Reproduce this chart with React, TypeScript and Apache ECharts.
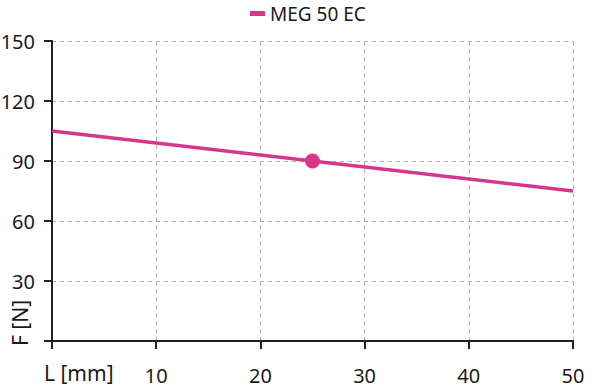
import React, { useEffect, useRef } from "react";
import * as echarts from "echarts";

const seriesName = "MEG 50 EC";
const lineData: [number, number][] = [
  [0, 105],
  [50, 75],
];
const markerData: [number, number][] = [[25, 90]];
const xTicks = { min: 0, max: 50, interval: 10 };
const yTicks = { min: 0, max: 150, interval: 30 };
const xAxisTitle = "L [mm]";
const yAxisTitle = "F [N]";

const COLOR = "#d6368c";
const FONT = "Noto Sans";
const TXT = "#1a1a1a";
const FS = 20;

export default function App() {
  const ref = useRef<HTMLDivElement>(null);
  useEffect(() => {
    document.body.style.margin = "0";
    if (!ref.current) return;
    const chart = echarts.init(ref.current, undefined, { renderer: "svg" });
    chart.setOption({
      animation: false,
      textStyle: { fontFamily: FONT },
      legend: {
        top: 0,
        left: 245,
        padding: [4, 5, 5, 5],
        data: [seriesName],
        icon: "rect",
        itemWidth: 15,
        itemHeight: 5,
        itemGap: 8,
        textStyle: { fontSize: 19, color: TXT, fontFamily: FONT, lineHeight: 16 },
      },
      grid: { left: 52, right: 27, top: 41, bottom: 49, outerBoundsMode: "none", containLabel: false },
      xAxis: {
        type: "value",
        min: xTicks.min,
        max: xTicks.max,
        interval: xTicks.interval,
        axisLine: { show: true, onZero: false, lineStyle: { color: "#222", width: 2 } },
        axisTick: { show: true, length: 8, lineStyle: { color: "#222", width: 2 } },
        axisLabel: {
          fontSize: FS,
          color: TXT,
          fontFamily: FONT,
          margin: 24,
          formatter: (v: number) => (v === 0 ? "" : String(v)),
        },
        splitLine: { show: true, lineStyle: { color: "#b0b0b0", type: [4, 4], width: 1 } },
      },
      yAxis: {
        type: "value",
        min: yTicks.min,
        max: yTicks.max,
        interval: yTicks.interval,
        axisLine: { show: true, lineStyle: { color: "#222", width: 2 } },
        axisTick: { show: true, length: 8, lineStyle: { color: "#222", width: 2 } },
        axisLabel: {
          fontSize: FS,
          color: TXT,
          fontFamily: FONT,
          margin: 17,
          formatter: (v: number) => (v === 0 ? "" : String(v)),
        },
        splitLine: { show: true, lineStyle: { color: "#b0b0b0", type: [4, 4], width: 1 } },
      },
      graphic: [
        {
          type: "text",
          left: 44,
          top: 362,
          style: { text: xAxisTitle, fontSize: 21, fill: TXT, fontFamily: FONT },
        },
        {
          type: "text",
          x: 9,
          y: 346,
          rotation: Math.PI / 2,
          style: {
            text: yAxisTitle,
            fontSize: 21,
            fill: TXT,
            fontFamily: FONT,
            align: "left",
            verticalAlign: "top",
          },
        },
      ],
      series: [
        {
          name: seriesName,
          type: "line",
          data: lineData,
          showSymbol: false,
          lineStyle: { color: COLOR, width: 3.5 },
          itemStyle: { color: COLOR },
        },
        {
          name: "marker",
          type: "scatter",
          data: markerData,
          symbolSize: 15,
          itemStyle: { color: COLOR, opacity: 1 },
        },
      ],
    });
    return () => chart.dispose();
  }, []);
  return <div ref={ref} style={{ width: 600, height: 390 }} />;
}
